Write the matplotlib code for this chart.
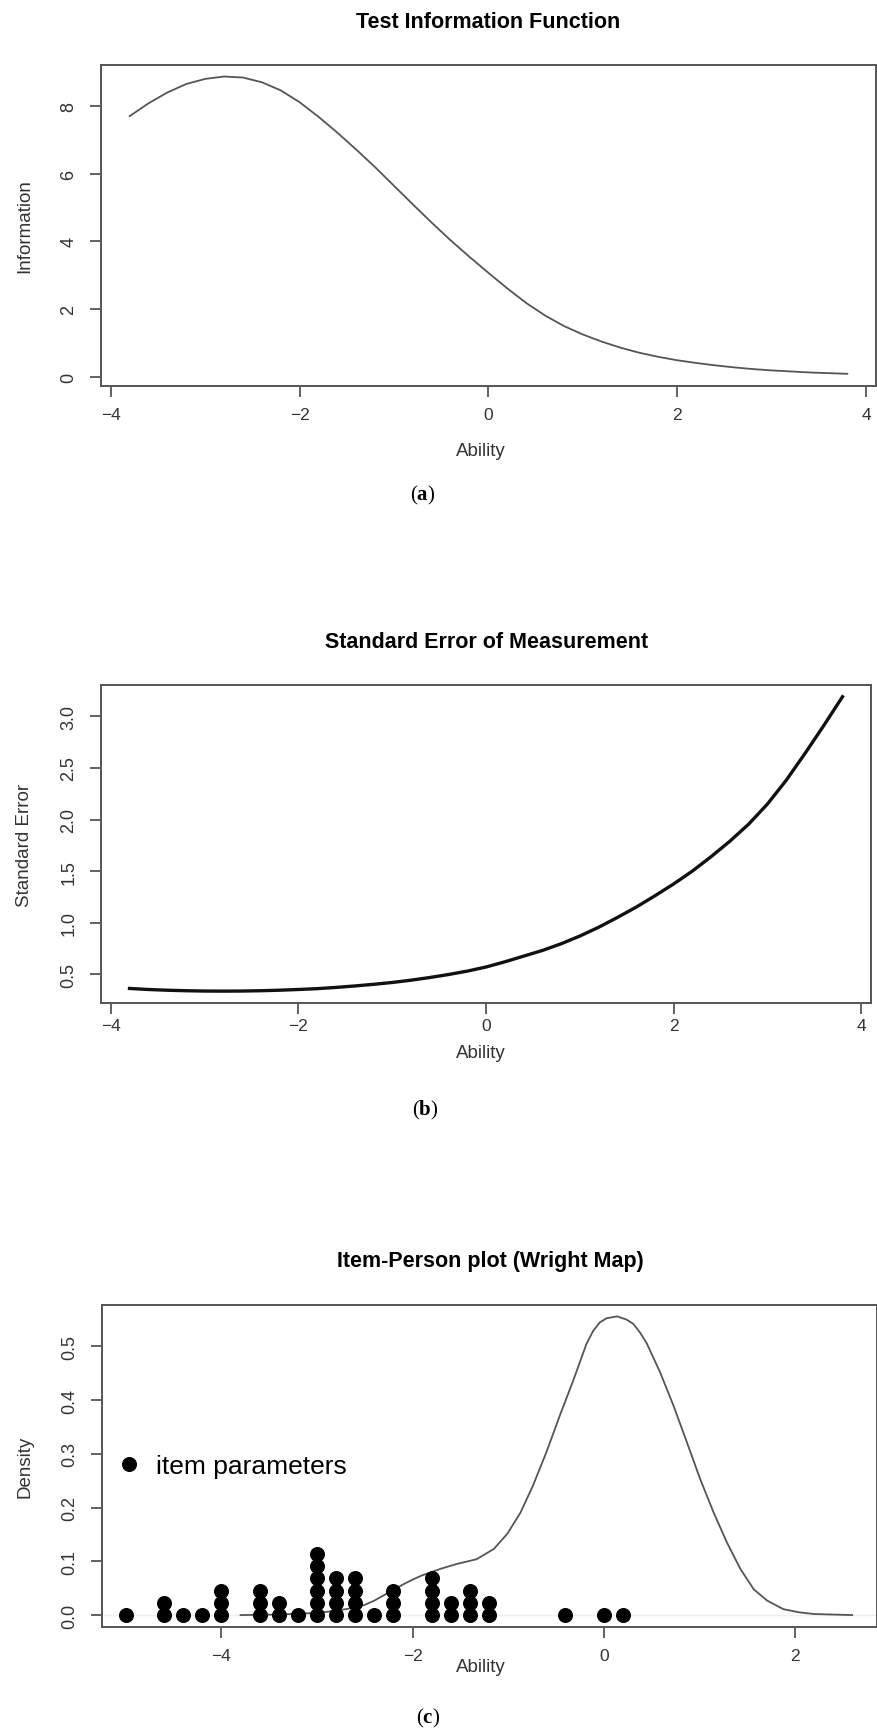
import numpy as np
import matplotlib.pyplot as plt

plt.rcParams['font.family'] = ['Liberation Sans', 'DejaVu Sans']
plt.rcParams['mathtext.fontset'] = 'custom'
plt.rcParams['mathtext.bf'] = 'Liberation Serif:bold'
plt.rcParams['mathtext.rm'] = 'Liberation Serif'

# (a) test information
ability_a = [-3.8, -3.6, -3.4, -3.2, -3.0, -2.8, -2.6, -2.4, -2.2, -2.0,
             -1.8, -1.6, -1.4, -1.2, -1.0, -0.8, -0.6, -0.4, -0.2, 0.0,
             0.2, 0.4, 0.6, 0.8, 1.0, 1.2, 1.4, 1.6, 1.8, 2.0,
             2.2, 2.4, 2.6, 2.8, 3.0, 3.2, 3.4, 3.6, 3.8]
information = [7.70, 8.08, 8.40, 8.65, 8.80, 8.87, 8.84, 8.70, 8.46, 8.11,
               7.68, 7.21, 6.71, 6.19, 5.64, 5.09, 4.55, 4.03, 3.54, 3.07,
               2.61, 2.18, 1.81, 1.50, 1.25, 1.04, 0.86, 0.71, 0.59, 0.49,
               0.41, 0.34, 0.28, 0.23, 0.19, 0.16, 0.13, 0.11, 0.09]

# (b) standard error of measurement
ability_b = ability_a
std_error = [0.362, 0.352, 0.345, 0.340, 0.337, 0.336, 0.337, 0.340, 0.345, 0.352,
             0.360, 0.372, 0.386, 0.402, 0.420, 0.442, 0.468, 0.497, 0.530, 0.570,
             0.620, 0.675, 0.730, 0.795, 0.870, 0.955, 1.050, 1.150, 1.260, 1.375,
             1.500, 1.640, 1.790, 1.955, 2.150, 2.380, 2.640, 2.910, 3.190]

# (c) person density and item parameters
ability_c = [-3.8, -3.4, -3.0, -2.8, -2.6, -2.5, -2.4, -2.3, -2.2, -2.1,
             -2.0, -1.9, -1.8, -1.71, -1.54, -1.33, -1.15, -1.01, -0.87, -0.74,
             -0.60, -0.46, -0.32, -0.18, -0.11, -0.04, 0.03, 0.14, 0.24, 0.31,
             0.38, 0.45, 0.59, 0.73, 0.87, 1.01, 1.15, 1.29, 1.43, 1.57,
             1.71, 1.88, 2.05, 2.2, 2.4, 2.6]
density = [0.0, 0.001, 0.004, 0.008, 0.014, 0.019, 0.027, 0.037, 0.047, 0.057,
           0.066, 0.074, 0.080, 0.086, 0.095, 0.104, 0.123, 0.151, 0.191, 0.241,
           0.303, 0.371, 0.436, 0.505, 0.529, 0.545, 0.5525, 0.556, 0.550, 0.542,
           0.526, 0.506, 0.452, 0.390, 0.322, 0.253, 0.191, 0.135, 0.086, 0.048,
           0.027, 0.011, 0.005, 0.002, 0.001, 0.0]
items = [-5.0, -4.6, -4.6, -4.4, -4.2, -4.0, -4.0, -4.0, -3.6, -3.6, -3.6,
         -3.4, -3.4, -3.2, -3.0, -3.0, -3.0, -3.0, -3.0, -3.0,
         -2.8, -2.8, -2.8, -2.8, -2.6, -2.6, -2.6, -2.6, -2.4,
         -2.2, -2.2, -2.2, -1.8, -1.8, -1.8, -1.8, -1.6, -1.6,
         -1.4, -1.4, -1.4, -1.2, -1.2, -0.4, 0.0, 0.2]

W, H = 878, 1733
fig = plt.figure(figsize=(W / 100, H / 100), dpi=100)

edge = '#555555'
txt = '#333333'


def r_axes(rect, xlim, ylim, xticks, yticks, ytl, xpad, xlab_y, ylab):
    l, t, r, b = rect
    ax = fig.add_axes([l / W, 1 - b / H, (r - l) / W, (b - t) / H])
    ax.set_xlim(*xlim)
    ax.set_ylim(*ylim)
    for s in ax.spines.values():
        s.set_color(edge)
        s.set_linewidth(1.4)
    ax.set_xticks(xticks)
    ax.set_yticks(yticks)
    ax.set_yticklabels(ytl)
    ax.tick_params(length=8, width=1.3, color=edge, labelcolor=txt)
    ax.tick_params(axis='x', labelsize=12.5, pad=xpad)
    ax.tick_params(axis='y', labelsize=13, pad=9, labelrotation=90)
    for lab in ax.get_yticklabels():
        lab.set_va('center')
    ax.set_xlabel('Ability', fontsize=13.5, color=txt)
    ax.xaxis.label.set_va('center')
    ax.xaxis.set_label_coords((481 - l) / (r - l), -(xlab_y - b) / (b - t))
    ax.set_ylabel(ylab, fontsize=13.5, color=txt)
    ax.yaxis.label.set_va('center')
    ax.yaxis.set_label_coords(-(l - 25) / (r - l), 0.5)
    return ax


def title(x, y, s):
    fig.text(x / W, 1 - y / H, s, ha='center', va='center',
             fontsize=15.5, fontweight='bold')


def panel_tag(x, y, letter):
    fig.text(x / W, 1 - y / H, '(' + r'$\mathbf{' + letter + '}$' + ')',
             ha='center', va='center', fontsize=15, family='Liberation Serif')


# (a)
ax1 = r_axes((101, 66, 876, 387), (-4.104, 4.104), (-0.27, 9.21),
             [-4, -2, 0, 2, 4], [0, 2, 4, 6, 8], ['0', '2', '4', '6', '8'],
             7, 452, 'Information')
ax1.plot(ability_a, information, color='#555555', lw=1.3)
title(488, 22, 'Test Information Function')
panel_tag(423, 495, 'a')

# (b)
ax2 = r_axes((101, 686, 871, 1004), (-4.104, 4.104), (0.221, 3.304),
             [-4, -2, 0, 2, 4], [0.5, 1.0, 1.5, 2.0, 2.5, 3.0],
             ['0.5', '1.0', '1.5', '2.0', '2.5', '3.0'],
             2.5, 1053, 'Standard Error')
ax2.plot(ability_b, std_error, color='#111111', lw=2.4)
title(487, 642, 'Standard Error of Measurement')
panel_tag(425, 1110, 'b')

# (c)
ax3 = r_axes((102, 1306, 877, 1628), (-5.25, 2.86), (-0.0222, 0.5772),
             [-4, -2, 0, 2], [0.0, 0.1, 0.2, 0.3, 0.4, 0.5],
             ['0.0', '0.1', '0.2', '0.3', '0.4', '0.5'],
             7, 1668, 'Density')
ax3.axhline(0, color='#eeeeee', lw=1, zorder=0)
ax3.plot(ability_c, density, color='#555555', lw=1.3)

# stack equal item parameters like R's stripchart(method="stack")
step = 0.0228
seen = {}
stack_y = []
for v in items:
    k = seen.get(v, 0)
    stack_y.append(k * step)
    seen[v] = k + 1
ax3.plot(items, stack_y, 'o', color='black', markersize=9.8,
         label='item parameters', clip_on=False)
ax3.legend(loc='center left', bbox_to_anchor=(0.0265, 0.5), frameon=False,
           borderpad=0, borderaxespad=0, handlelength=0.5, handletextpad=0.77,
           fontsize=19)
title(490, 1262, 'Item-Person plot (Wright Map)')
panel_tag(428, 1718, 'c')

fig.savefig('out.png', dpi=100)
